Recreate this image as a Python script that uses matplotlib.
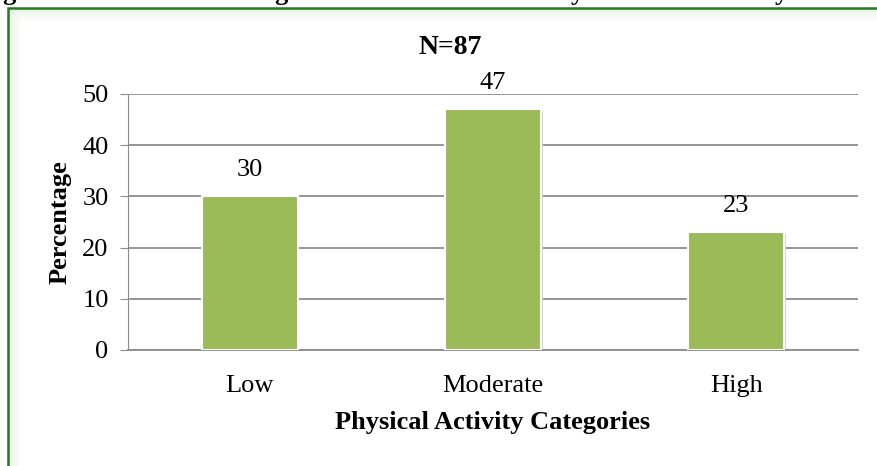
import matplotlib.pyplot as plt
from matplotlib.patches import Rectangle
from matplotlib.lines import Line2D

# data
categories = ['Low', 'Moderate', 'High']
percentages = [30, 47, 23]
y_ticks = [0, 10, 20, 30, 40, 50]

bar_green = '#9BBB59'
grid_grey = '#8C8C8C'
serif = ['Liberation Serif', 'DejaVu Serif']

plt.rcParams['font.family'] = serif

W, H = 877, 466
fig = plt.figure(figsize=(W / 100, H / 100), dpi=100)
fig.patch.set_facecolor('white')

# green frame: left and top edges show, the rest runs off the image
fx, fy = 8, 8
for k in range(1, 12):
    a = 0.14 * (1 - k / 12)
    fig.add_artist(Line2D([(fx + k) / W, 1.0], [1 - (fy + k) / H] * 2,
                          transform=fig.transFigure, color='#8DBF7A',
                          alpha=a, linewidth=1, zorder=3))
    fig.add_artist(Line2D([(fx + k) / W] * 2, [0, 1 - (fy + k) / H],
                          transform=fig.transFigure, color='#8DBF7A',
                          alpha=a, linewidth=1, zorder=3))
frame = Rectangle((fx / W, -0.05), 1.05, (H - fy) / H + 0.05,
                  transform=fig.transFigure, fill=False,
                  edgecolor='#237A1E', linewidth=1.8, zorder=5)
fig.add_artist(frame)

# descenders of the caption line cut off at the top of the picture
for x, ch in [(2, 'g'), (274, 'g'), (571, 'y'), (775, 'y')]:
    fig.text(x / W, 1.0, ch, fontsize=19, fontweight='bold',
             va='baseline', ha='left', family=serif)

left, right = 128, 858
top, bottom = 94, 350
ax = fig.add_axes([left / W, (H - bottom) / H, (right - left) / W, (bottom - top) / H])

x = list(range(len(categories)))
bw = 0.395
# soft shadow behind the bars
ax.bar([i + 0.006 for i in x], percentages, width=bw, bottom=-0.35,
       color='#D4D4D4', linewidth=0, zorder=2)
bars = ax.bar(x, percentages, width=bw, color=bar_green,
              edgecolor='white', linewidth=1.5, zorder=3)
for b, v in zip(bars, percentages):
    ax.text(b.get_x() + b.get_width() / 2, v + 3.0, str(v),
            ha='center', va='bottom', fontsize=19)

ax.set_xlim(-0.5, len(categories) - 0.5)
ax.set_ylim(0, 50)
ax.set_yticks(y_ticks)
ax.set_xticks(x)
ax.set_xticklabels(categories)
ax.yaxis.grid(True, color=grid_grey, linewidth=1.3, zorder=0)
ax.set_axisbelow(True)

for s in ['top', 'right']:
    ax.spines[s].set_visible(False)
ax.spines['left'].set_color(grid_grey)
ax.spines['bottom'].set_color(grid_grey)
ax.spines['bottom'].set_linewidth(1.3)
ax.tick_params(axis='y', length=6, color=grid_grey, labelsize=19, pad=8)
ax.tick_params(axis='x', length=0, labelsize=19, pad=18)

ax.set_xlabel('Physical Activity Categories', fontsize=19, fontweight='bold', labelpad=10)
ax.set_ylabel('Percentage', fontsize=19, fontweight='bold', labelpad=8)

fig.text(450 / W, 1 - 48 / H, 'N=87', ha='center', va='center',
         fontsize=20, fontweight='bold')

fig.savefig('out.png', dpi=100)
